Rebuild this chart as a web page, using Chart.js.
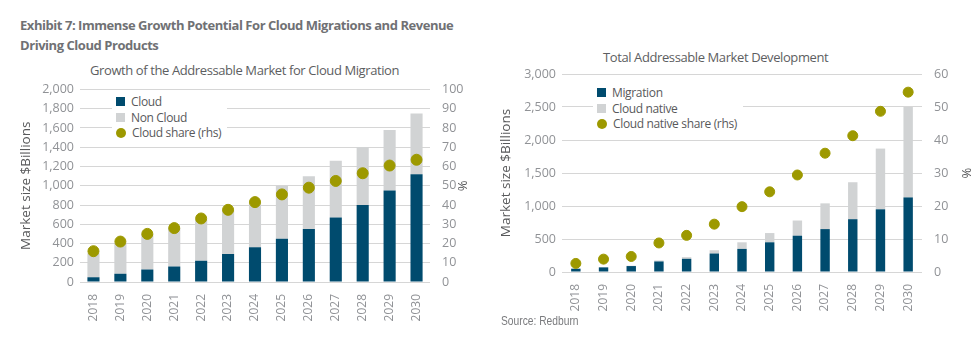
<!DOCTYPE html>
<html>
<head>
<meta charset="utf-8">
<script src="https://cdn.jsdelivr.net/npm/chart.js@4.4.1/dist/chart.umd.min.js"></script>
<style>
  html, body { margin: 0; padding: 0; background: #fff; }
  body { width: 974px; height: 344px; position: relative; overflow: hidden; font-family: "Open Sans", sans-serif; }
  .exhibit { position: absolute; left: 20px; top: 15px; font-weight: bold; font-size: 13px; line-height: 20px; color: #707174; letter-spacing: -0.45px; }
  .sub { position: absolute; font-size: 13px; color: #5d5e61; white-space: nowrap; letter-spacing: -0.4px; }
  .box { position: absolute; }
  .legend { position: absolute; background: #fff; font-size: 12px; color: #58595b; line-height: 15.5px; padding: 2px 6px 2px 4px; letter-spacing: -0.35px; }
  .legend div { display: flex; align-items: center; white-space: nowrap; }
  .sw { display: inline-block; width: 9px; height: 9px; margin-right: 6px; }
  .dot { display: inline-block; width: 10px; height: 10px; border-radius: 50%; margin-right: 6px; }
  .source { position: absolute; left: 501px; top: 313px; font-family: "Liberation Sans", sans-serif; font-size: 13.5px; color: #7a7b7e; transform: scaleX(0.76); transform-origin: left top; white-space: nowrap; }
</style>
</head>
<body>
<div class="exhibit">Exhibit 7: Immense Growth Potential For Cloud Migrations and Revenue<br>Driving Cloud Products</div>

<div class="sub" style="left:90px; top:61px;">Growth of the Addressable Market for Cloud Migration</div>
<div class="box" style="left:0px; top:76px; width:470px; height:268px;"><canvas id="left"></canvas></div>
<div class="legend" style="left:112px; top:92px;">
  <div><span class="sw" style="background:#004b6e"></span>Cloud</div>
  <div><span class="sw" style="background:#d1d3d4"></span>Non Cloud</div>
  <div><span class="dot" style="background:#9d9900"></span>Cloud share (rhs)</div>
</div>

<div class="sub" style="left:603px; top:48px;">Total Addressable Market Development</div>
<div class="box" style="left:480px; top:60px; width:494px; height:284px;"><canvas id="right"></canvas></div>
<div class="legend" style="left:593px; top:83px;">
  <div><span class="sw" style="background:#004b6e"></span>Migration</div>
  <div><span class="sw" style="background:#d1d3d4"></span>Cloud native</div>
  <div><span class="dot" style="background:#9d9900"></span>Cloud native share (rhs)</div>
</div>

<div class="source">Source: Redburn</div>

<script>
// years shared by both panels
const years = ['2018','2019','2020','2021','2022','2023','2024','2025','2026','2027','2028','2029','2030'];

// left panel: addressable market for cloud migration ($bn) and cloud share (%)
const cloud      = [50, 85, 130, 160, 220, 290, 360, 450, 550, 670, 800, 950, 1120];
const nonCloud   = [250, 315, 370, 400, 430, 460, 470, 550, 550, 590, 600, 630, 630];
const cloudShare = [16, 21, 25, 28, 33, 37.5, 41.5, 45.5, 49, 52.5, 56.5, 60.5, 63.5];

// right panel: total addressable market ($bn) and cloud native share (%)
const migration   = [50, 70, 90, 160, 200, 280, 350, 450, 550, 650, 800, 950, 1130];
const cloudNative = [2, 3, 5, 15, 25, 50, 100, 140, 230, 390, 560, 920, 1370];
const nativeShare = [2.6, 3.9, 4.7, 8.8, 11.1, 14.5, 19.8, 24.3, 29.4, 36, 41.3, 48.7, 54.5];

const NAVY = '#004b6e', LIGHT = '#d1d3d4', OLIVE = '#9d9900';
const TICK = '#909296', TITLE = '#58595b', GRID = '#d6d6d6';
const FONT = '"Open Sans", sans-serif';

function makeChart(id, o) {
  return new Chart(document.getElementById(id), {
    data: {
      labels: years,
      datasets: [
        { type: 'scatter', data: o.share, yAxisID: 'y2', backgroundColor: OLIVE, borderColor: OLIVE,
          pointRadius: o.dotR, pointHoverRadius: o.dotR, order: 0 },
        { type: 'bar', data: o.low, yAxisID: 'y', backgroundColor: NAVY, stack: 's', order: 1,
          categoryPercentage: 1, barPercentage: o.barPct },
        { type: 'bar', data: o.high, yAxisID: 'y', backgroundColor: LIGHT, stack: 's', order: 1,
          categoryPercentage: 1, barPercentage: o.barPct }
      ]
    },
    options: {
      responsive: true, maintainAspectRatio: false, animation: false,
      layout: { padding: { left: 18, top: o.padTop, bottom: o.padBottom, right: 0 } },
      plugins: { legend: { display: false }, tooltip: { enabled: false } },
      scales: {
        x: {
          type: 'category', stacked: true, offset: true,
          grid: { display: false }, border: { display: false },
          ticks: { color: TICK, font: { family: FONT, size: 12 }, maxRotation: 90, minRotation: 90, padding: 4, autoSkip: false },
          afterFit: s => { s.height = 40; }
        },
        y: {
          position: 'left', stacked: true, min: 0, max: o.yMax,
          grid: { color: GRID, drawTicks: false }, border: { display: false },
          ticks: { stepSize: o.yStep, color: TICK, padding: 6, font: { family: FONT, size: 12.5 },
                   callback: v => v.toLocaleString('en-US') },
          title: { display: true, text: 'Market size $Billions', color: TITLE, font: { family: FONT, size: 13.5 }, padding: { top: 0, bottom: 0 } },
          afterFit: s => { s.width = o.yWidth; }
        },
        y2: {
          position: 'right', min: 0, max: o.y2Max,
          grid: { display: false }, border: { display: false },
          ticks: { stepSize: 10, color: TICK, padding: 4, font: { family: FONT, size: 12.5 } },
          title: { display: true, text: '%', color: TITLE, font: { family: FONT, size: 13 }, padding: { top: 0, bottom: 0 } },
          afterFit: s => { s.width = o.y2Width; }
        }
      }
    }
  });
}

makeChart('left', {
  low: cloud, high: nonCloud, share: cloudShare,
  yMax: 2000, yStep: 200, y2Max: 100, barPct: 0.45, dotR: 5.5,
  yWidth: 62, y2Width: 40, padTop: 10, padBottom: 22
});

makeChart('right', {
  low: migration, high: cloudNative, share: nativeShare,
  yMax: 3000, yStep: 500, y2Max: 60, barPct: 0.34, dotR: 5,
  yWidth: 64, y2Width: 52, padTop: 14, padBottom: 32
});
</script>
</body>
</html>
